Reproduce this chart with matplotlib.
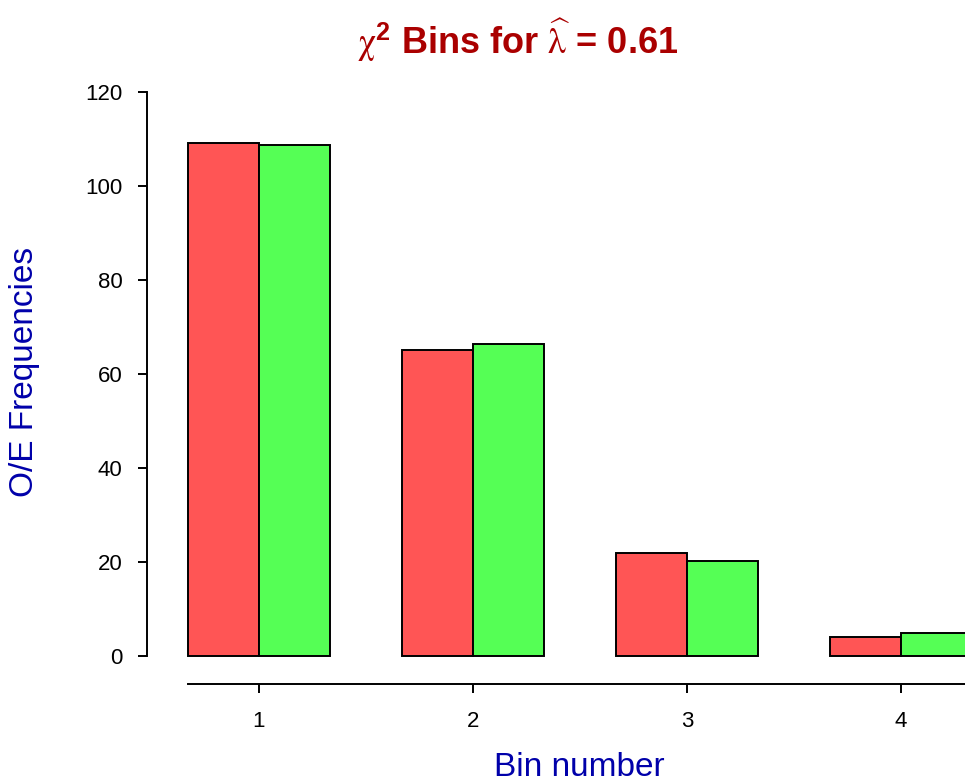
import numpy as np
import matplotlib
matplotlib.use('Agg')
import matplotlib.pyplot as plt

plt.rcParams['font.family'] = ['Liberation Sans', 'DejaVu Sans']
plt.rcParams['mathtext.fontset'] = 'custom'
plt.rcParams['mathtext.rm'] = 'STIXGeneral'
plt.rcParams['mathtext.it'] = 'STIXGeneral:italic'
plt.rcParams['mathtext.bf'] = 'Liberation Sans:bold'

# data
bins = [1, 2, 3, 4]
observed = [109.1, 65.1, 21.9, 4.0]
expected = [108.7, 66.4, 20.2, 4.9]
yticks = [0, 20, 40, 60, 80, 100, 120]

red = '#FF5555'
green = '#55FF55'
blue = '#0000AA'
darkred = '#AA0000'
lw = 1.4

fig = plt.figure(figsize=(9.65, 7.82), dpi=100)
# plot area runs past the right edge, as in the original
ax = fig.add_axes([147/965., (782-693.6)/782., (1008-147)/965., (693.6-68.5)/782.])

w = 1/3.
x = np.asarray(bins, dtype=float)
ax.bar(x - w/2, observed, width=w, color=red, edgecolor='black', linewidth=lw)
ax.bar(x + w/2, expected, width=w, color=green, edgecolor='black', linewidth=lw)

ax.set_xlim(0.477, 4.5)
ax.set_ylim(-8, 125)

for s in ['top', 'right']:
    ax.spines[s].set_visible(False)
ax.spines['left'].set_bounds(0, 120)
ax.spines['bottom'].set_position(('data', -6))
ax.spines['bottom'].set_bounds(1 - w, 4.5)
for s in ['left', 'bottom']:
    ax.spines[s].set_linewidth(lw)

ax.set_xticks(bins)
ax.set_yticks(yticks)
ax.tick_params(axis='y', direction='out', length=6.5, width=lw, pad=11, labelsize=16)
ax.tick_params(axis='x', direction='out', length=6.5, width=lw, pad=13, labelsize=16)

ax.set_xlabel('Bin number', fontsize=24, color=blue)
ax.xaxis.set_label_coords(579/965., 1 - 767/782., transform=fig.transFigure)
ax.xaxis.label.set_verticalalignment('center')
ax.set_ylabel('O/E Frequencies', fontsize=24, color=blue)
ax.yaxis.set_label_coords(25/965., 1 - 372/782., transform=fig.transFigure)
ax.yaxis.label.set_verticalalignment('center')

fig.text(518/965., 1 - 40/782., r'$\mathrm{\chi}^{\mathbf{2}}$ Bins for $\widehat{\mathrm{\lambda}}$ = 0.61',
         fontsize=26, fontweight='bold', color=darkred, ha='center', va='center')

fig.savefig('out.png', dpi=100)
